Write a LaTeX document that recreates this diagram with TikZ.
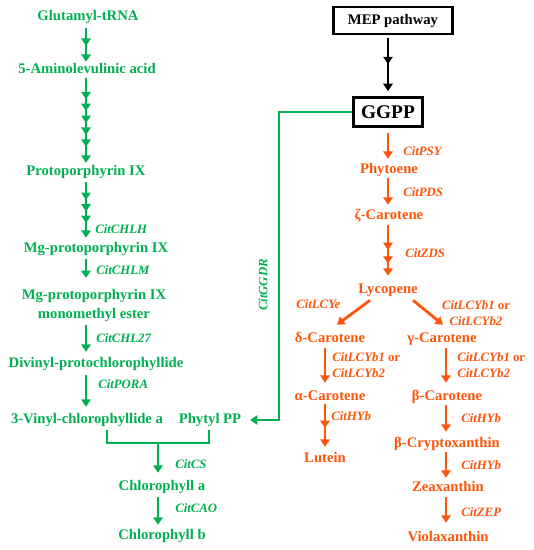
\documentclass[tikz,border=0pt]{standalone}
\usepackage{fontspec}
\setmainfont{Liberation Serif}
\usetikzlibrary{arrows.meta,calc,decorations.markings}
\definecolor{cgreen}{RGB}{0,176,80}
\definecolor{corange}{RGB}{255,85,10}
\begin{document}
\begin{tikzpicture}[x=0.75pt,y=-0.75pt,
  every node/.style={inner sep=0pt},
  met/.style={font=\fontsize{11}{13}\selectfont\bfseries, text height=8pt, text depth=2.5pt},
  gmet/.style={met,text=cgreen},
  omet/.style={met,text=corange},
  enz/.style={font=\fontsize{9.6}{12}\selectfont\bfseries\itshape, anchor=west},
  genz/.style={enz,text=cgreen},
  oenz/.style={enz,text=corange},
  tipstyle/.style={-{Triangle[width=7pt,length=5.5pt]}},
  garr/.style={cgreen,line width=2.1pt,tipstyle,shorten <=1.5pt,shorten >=3pt},
  oarr/.style={corange,line width=2.1pt,tipstyle,shorten <=1.5pt,shorten >=3pt},
  barr/.style={black,line width=1.7pt,tipstyle,shorten <=1.5pt,shorten >=3pt},
  gline/.style={cgreen,line width=1.7pt},
  box/.style={draw,line width=1.9pt,font=\fontsize{11}{13}\selectfont\bfseries},
  mhone/.style={postaction={decorate,decoration={markings,
     mark=at position #1 with {\arrow{Triangle[width=7pt,length=5.5pt]}}}}},
  mhmany/.style n args={3}{postaction={decorate,decoration={markings,
     mark=between positions #1 and #2 step #3 with {\arrow{Triangle[width=7pt,length=5.5pt]}}}}}
]
\fill[white] (0,0) rectangle (533,550);
\useasboundingbox (0,0) rectangle (533,550);

% column coordinates
\coordinate (cx) at (86,0);
\coordinate (rx) at (388,0);
\coordinate (dx) at (325,0);
\coordinate (gx) at (446,0);
\coordinate (gc) at (279,112);
\coordinate (jn) at (158,443);

% ---------- chlorophyll branch ----------
\node[gmet] (glu) at (88,17) {Glutamyl-tRNA};
\node[gmet] (ala) at (87,70) {5-Aminolevulinic acid};
\node[gmet] (proto) at (86,172) {Protoporphyrin IX};
\node[gmet] (mgp) at (96,249) {Mg-protoporphyrin IX};
\node[font=\fontsize{11}{14.25}\selectfont\bfseries,text=cgreen,align=center] (mgme) at (94,305) {Mg-protoporphyrin IX\\monomethyl ester};
\node[gmet] (div) at (96,364) {Divinyl-protochlorophyllide};
\node[gmet] (vin) at (87,420) {3-Vinyl-chlorophyllide a};
\node[gmet] (phy) at (210,420) {Phytyl PP};
\node[gmet] (chla) at (162,487) {Chlorophyll a};
\node[gmet] (chlb) at (162,536) {Chlorophyll b};

\node[genz] (e1) at (95,229) {CitCHLH};
\node[genz] (e2) at (96,270) {CitCHLM};
\node[genz] (e3) at (96,338) {CitCHL27};
\node[genz] (e4) at (98,384) {CitPORA};
\node[genz] (e5) at (175,464) {CitCS};
\node[genz] (e6) at (175,508) {CitCAO};
\node[genz,anchor=center,rotate=90] (e7) at (263,285) {CitGGDR};

\draw[garr,shorten <=3pt,shorten >=0.75pt,mhone=0.56] (glu.south -| cx) -- (ala.north -| cx);
\draw[garr,shorten <=0.75pt,shorten >=1.5pt,mhmany={0.25}{0.8}{0.136}] (ala.south -| cx) -- (proto.north -| cx);
\draw[garr,shorten <=2.25pt,shorten >=3pt,mhmany={0.33}{0.71}{0.185}] (proto.south -| cx) -- (mgp.north -| cx);
\draw[garr,shorten <=2.25pt,shorten >=8pt] (mgp.south -| cx) -- (mgme.north -| cx);
\draw[garr,shorten <=3pt,shorten >=3.75pt] (mgme.south -| cx) -- (div.north -| cx);
\draw[garr,shorten <=3pt,shorten >=4.5pt] (div.south -| cx) -- (vin.north -| cx);

\draw[gline] ($(vin.south)+(20,3)$) |- (jn) -| ($(phy.south)+(-1,3)$);
\draw[garr,shorten <=0pt,shorten >=5.25pt] (jn) -- (chla.north -| jn);
\draw[garr,shorten <=2.25pt,shorten >=3pt] (chla.south -| jn) -- (chlb.north -| jn);

% ---------- carotenoid branch ----------
\node[box,minimum width=89pt,minimum height=20pt] (mep) at (393,20.5) {MEP pathway};
\node[box,minimum width=52pt,minimum height=22pt,font=\fontsize{14.5}{16}\selectfont\bfseries] (ggpp) at (388,112) {GGPP};

\draw[barr,shorten <=2.25pt,shorten >=3.75pt,mhone=0.476] (mep.south -| ggpp) -- (ggpp.north);
\draw[gline,-{Triangle[width=7pt,length=5.5pt]},shorten >=6.5pt] (ggpp.west) -- (gc) |- (phy.east);

\node[omet] (phyt) at (389,170) {Phytoene};
\node[omet] (zeta) at (389,216) {ζ-Carotene};
\node[omet] (lyc) at (388,290) {Lycopene};
\node[omet] (delta) at (330,339) {δ-Carotene};
\node[omet] (gamma) at (442,339) {γ-Carotene};
\node[omet] (alpha) at (330,397) {α-Carotene};
\node[omet] (beta) at (447,397) {β-Carotene};
\node[omet] (lut) at (325,459) {Lutein};
\node[omet] (bcry) at (447,444) {β-Cryptoxanthin};
\node[omet] (zea) at (448,488) {Zeaxanthin};
\node[omet] (viola) at (448,538) {Violaxanthin};

\node[oenz] (o1) at (403,151) {CitPSY};
\node[oenz] (o2) at (403,192) {CitPDS};
\node[oenz] (o3) at (405,253) {CitZDS};
\node[oenz] (o4) at (296,304) {CitLCYe};
\node[oenz,anchor=center,align=center] (o5) at (476,313) {CitLCYb1 {\upshape or}\\CitLCYb2};
\node[oenz,align=left] (o6) at (332,365) {CitLCYb1 {\upshape or}\\CitLCYb2};
\node[oenz,align=left] (o7) at (457,365) {CitLCYb1 {\upshape or}\\CitLCYb2};
\node[oenz] (o8) at (331,416) {CitHYb};
\node[oenz] (o9) at (461,418) {CitHYb};
\node[oenz] (o10) at (461,465) {CitHYb};
\node[oenz] (o11) at (461,512) {CitZEP};

\draw[oarr,shorten <=3.75pt,shorten >=3pt] (ggpp.south) -- (phyt.north -| ggpp);
\draw[oarr,shorten <=0.75pt,shorten >=3pt] (phyt.south -| rx) -- (zeta.north -| rx);
\draw[oarr,shorten <=1.5pt,shorten >=5.25pt,mhmany={0.45}{0.69}{0.23}] (zeta.south -| rx) -- (lyc.north -| rx);
\draw[oarr,shorten <=0pt,shorten >=0pt] ($(lyc.south)+(-18,3)$) -- ($(delta.north)+(7,-7)$);
\draw[oarr,shorten <=0pt,shorten >=0pt] ($(lyc.south)+(25,3)$) -- ($(gamma.north)+(1,-7)$);
\draw[oarr,shorten <=1.5pt,shorten >=5.25pt] (delta.south -| dx) -- (alpha.north -| dx);
\draw[oarr,shorten <=1.5pt,shorten >=5.25pt] (gamma.south -| gx) -- (beta.north -| gx);
\draw[oarr,shorten <=0pt,shorten >=3.75pt,mhone=0.5] (alpha.south -| dx) -- (lut.north -| dx);
\draw[oarr,shorten <=0.75pt,shorten >=3.75pt] (beta.south -| gx) -- (bcry.north -| gx);
\draw[oarr,shorten <=0.75pt,shorten >=2.25pt] (bcry.south -| gx) -- (zea.north -| gx);
\draw[oarr,shorten <=1.5pt,shorten >=6pt] (zea.south -| gx) -- (viola.north -| gx);
\end{tikzpicture}
\end{document}
